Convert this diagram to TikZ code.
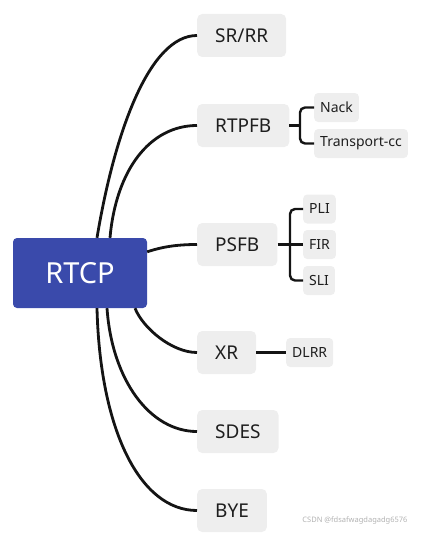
\documentclass[tikz,border=0pt]{standalone}
\usepackage{fontspec}
\setmainfont{Noto Sans}
\usetikzlibrary{positioning,calc}

\definecolor{rtcpblue}{HTML}{3A4AAB}
\definecolor{boxgray}{HTML}{EEEEEE}
\definecolor{txtgray}{HTML}{1E1E1E}

\begin{document}
\begin{tikzpicture}[
  x=1pt, y=-1pt,
  root/.style={fill=rtcpblue, rounded corners=4pt, minimum width=134pt, minimum height=70pt, text=white, font=\fontsize{29}{30}\selectfont},
  topic/.style={fill=boxgray, rounded corners=5pt, minimum height=43pt, inner xsep=18pt, anchor=west, text=txtgray, font=\fontsize{19}{20}\selectfont},
  sub/.style={fill=boxgray, rounded corners=4pt, minimum height=29pt, inner xsep=6pt, anchor=west, text=txtgray, font=\fontsize{14}{15}\selectfont},
  link/.style={line width=2.8pt, black!92},
  branch/.style={line width=2.4pt, black!92, rounded corners=5pt}
]
\useasboundingbox (0,0) rectangle (426,535);

\node[root] (rtcp) at (80,273) {RTCP};

\node[topic] (srrr) at (197,35.5) {SR/RR};
\node[topic] (rtpfb) at (197,125.5) {RTPFB};
\node[topic] (psfb) at (197,244.5) {PSFB};
\node[topic] (xr) at (197,352.5) {XR};
\node[topic] (sdes) at (197,431.5) {SDES};
\node[topic] (bye) at (197,510.5) {BYE};

\node[sub] (nack) at (314,107.5) {Nack};
\node[sub] (tcc) at (314,143.5) {Transport-cc};
\node[sub] (pli) at (303,209) {PLI};
\node[sub] (fir) at (303,244.5) {FIR};
\node[sub] (sli) at (303,280.5) {SLI};
\node[sub] (dlrr) at (286,352.5) {DLRR};

% curves from the root
\draw[link] ([xshift=17pt]rtcp.north) .. controls +(18,-108) and +(-47,0) .. (srrr.west);
\draw[link] ([xshift=30pt]rtcp.north) .. controls +(6,-68) and +(-47,0) .. (rtpfb.west);
\draw[link] ([yshift=-14pt]rtcp.north east) .. controls +(15,-5) and +(-20,0) .. (psfb.west);
\draw[link] ([xshift=55pt]rtcp.south) .. controls +(8,20) and +(-25,0) .. (xr.west);
\draw[link] ([xshift=27pt]rtcp.south) .. controls +(5,72) and +(-47,0) .. (sdes.west);
\draw[link] ([xshift=17pt]rtcp.south) .. controls +(3,122) and +(-57,0) .. (bye.west);

% brackets
\draw[branch] (nack.west) -- ++(-14,0) |- (tcc.west);
\draw[branch] (rtpfb.east) -- ++(12,0);
\draw[branch] (pli.west) -- ++(-13,0) |- (sli.west);
\draw[branch] (psfb.east) -- (fir.west);
\draw[branch] (xr.east) -- (dlrr.west);

\node[text=black!30, font=\fontsize{7.5}{8}\selectfont, anchor=east] (mark) at (411,521) {CSDN @fdsafwagdagadg6576};
\end{tikzpicture}
\end{document}
